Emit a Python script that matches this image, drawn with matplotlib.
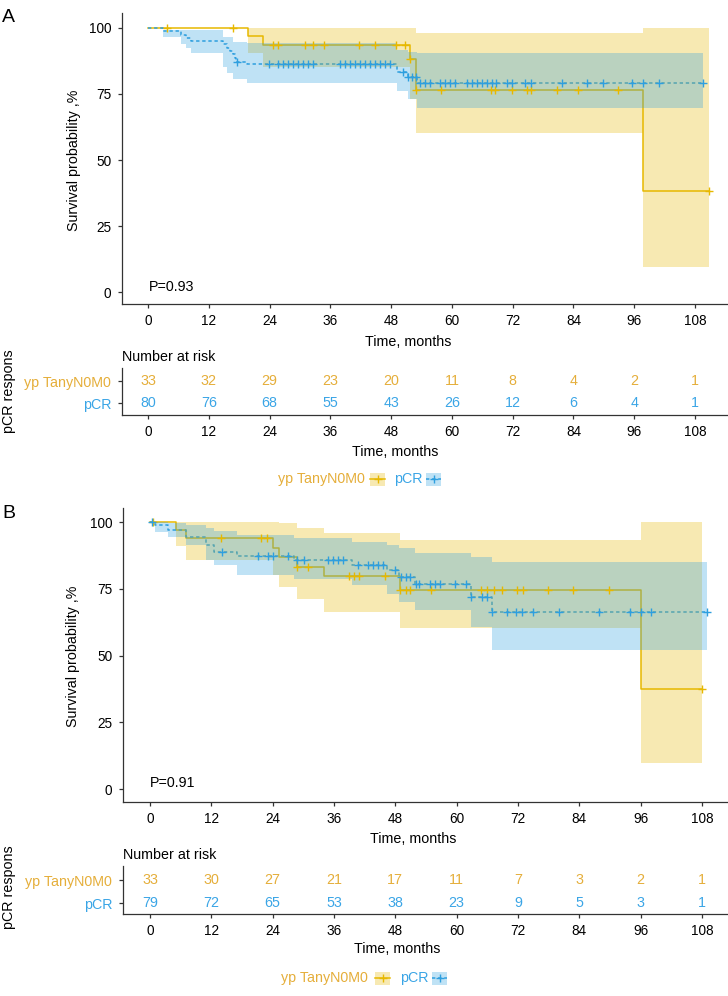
import matplotlib
matplotlib.use('Agg')
import matplotlib.pyplot as plt
import numpy as np
from matplotlib.patches import Rectangle

plt.rcParams['font.family'] = ['Liberation Sans', 'DejaVu Sans']

# ---------------- data ----------------
groups = ['yp TanyN0M0', 'pCR']
time_ticks = [0, 12, 24, 36, 48, 60, 72, 84, 96, 108]
surv_ticks = [0, 25, 50, 75, 100]

# Panel A – yp TanyN0M0
a_yp_t = [0, 19.8, 22.8, 51.8, 52.9, 97.8]
a_yp_s = [100, 97.0, 93.6, 88.2, 76.4, 38.2]
a_yp_lo = [100, 90.5, 85.4, 73.0, 60.1, 9.6]
a_yp_hi = [100, 100, 100, 100, 98.0, 100]
a_yp_end = 110.8
a_yp_cens = [3.7, 16.8, 24.7, 25.7, 31.0, 32.6, 34.7, 41.7, 44.8, 49.0, 50.7, 51.8,
             52.9, 57.8, 67.7, 68.5, 71.8, 74.8, 75.7, 80.7, 84.8, 92.7, 110.8]
# Panel A – pCR
a_pcr_t = [0, 3.0, 6.5, 7.5, 8.5, 14.9, 15.6, 16.2, 16.8, 17.2, 17.4, 19.5, 49.1, 51.4, 53.2]
a_pcr_s = [100, 98.75, 97.5, 96.25, 95.0, 93.75, 92.5, 91.25, 90.0, 88.75, 87.2, 86.2, 83.5, 81.3, 79.0]
a_pcr_lo = [100, 96.5, 93.9, 92.3, 90.4, 85.4, 82.8, 82.8, 80.6, 80.6, 80.6, 79.3, 76.3, 73.0, 69.8]
a_pcr_hi = [100, 99.3, 99.3, 99.3, 99.3, 96.7, 96.7, 96.7, 94.8, 94.8, 94.8, 94.2, 91.7, 91.0, 90.4]
a_pcr_end = 109.6
a_pcr_cens = [17.6, 23.8, 25.7, 26.7, 27.7, 28.7, 29.7, 30.6, 31.6, 32.6, 37.9, 38.9, 39.9,
              40.9, 41.9, 42.8, 43.8, 44.8, 45.8, 46.8, 47.8, 50.4, 51.4, 52.1, 53.0, 53.7,
              54.7, 55.7, 57.7, 58.6, 59.6, 60.6, 62.9, 63.9, 64.9, 65.9, 66.9, 67.9, 68.8,
              70.8, 71.8, 74.4, 75.7, 81.7, 86.7, 89.8, 95.6, 97.8, 100.8, 109.6]
a_risk_yp = [33, 32, 29, 23, 20, 11, 8, 4, 2, 1]
a_risk_pcr = [80, 76, 68, 55, 43, 26, 12, 6, 4, 1]
a_pval = 'P=0.93'

# Panel B – yp TanyN0M0
b_yp_t = [0, 5.0, 7.0, 24.1, 25.2, 28.8, 34.0, 49.0, 96.0]
b_yp_s = [100, 97.0, 93.9, 90.4, 86.8, 83.3, 79.6, 74.7, 37.4]
b_yp_lo = [100, 91.0, 85.8, 80.0, 75.8, 71.0, 66.4, 60.2, 9.6]
b_yp_hi = [100, 100, 100, 99.9, 99.5, 97.6, 95.7, 93.3, 100]
b_yp_end = 108.0
b_yp_cens = [0.6, 13.8, 21.8, 22.9, 28.8, 30.9, 38.9, 39.9, 40.8, 45.9, 49.0, 50.0, 50.8,
             55.0, 64.7, 66.0, 67.4, 68.8, 71.9, 72.9, 77.8, 82.8, 89.9, 108.0]
# Panel B – pCR
b_pcr_t = [0, 1.0, 3.5, 7.0, 11.0, 12.5, 17.0, 28.2, 39.5, 46.3, 48.8, 51.9, 62.9, 67.0]
b_pcr_s = [100, 98.7, 97.0, 94.2, 91.5, 88.9, 87.3, 85.8, 83.9, 82.0, 79.5, 76.8, 71.8, 66.4]
b_pcr_lo = [100, 96.4, 94.3, 91.4, 85.8, 83.9, 80.1, 78.5, 76.4, 73.2, 70.1, 67.0, 60.5, 52.1]
b_pcr_hi = [100, 100, 99.7, 98.7, 97.6, 96.7, 95.2, 93.9, 92.6, 91.3, 90.1, 88.3, 87.0, 85.1]
b_pcr_end = 109.0
b_pcr_cens = [0.3, 14.0, 21.1, 23.1, 24.1, 27.0, 28.8, 30.2, 34.9, 35.9, 36.8, 37.8, 40.6,
              42.6, 43.6, 44.6, 45.6, 47.9, 49.2, 50.1, 50.9, 52.1, 52.7, 54.8, 55.8, 56.7,
              59.7, 61.8, 62.9, 64.9, 65.9, 67.0, 69.8, 71.7, 72.7, 75.0, 80.1, 87.9, 94.0,
              96.0, 98.0, 109.0]
b_risk_yp = [33, 30, 27, 21, 17, 11, 7, 3, 2, 1]
b_risk_pcr = [79, 72, 65, 53, 38, 23, 9, 5, 3, 1]
b_pval = 'P=0.91'

# ---------------- style ----------------
W, H = 728, 996
YEL = '#E7B800'
BLU = '#2E9FDF'
YEL_TXT = '#E5AE3A'
BLU_TXT = '#3AA5E6'
AXC = '#333333'
FS_TICK = 9.8
FS_TXT = 10.3

fig = plt.figure(figsize=(W / 100, H / 100), dpi=100)


def px_axes(left, right, top, bottom):
    return fig.add_axes([left / W, 1 - bottom / H, (right - left) / W, (bottom - top) / H])


def style_axes(ax):
    for sp in ['top', 'right']:
        ax.spines[sp].set_visible(False)
    for sp in ['left', 'bottom']:
        ax.spines[sp].set_color(AXC)
        ax.spines[sp].set_linewidth(0.9)
    ax.tick_params(colors=AXC, width=0.9, length=3, labelsize=FS_TICK, labelcolor='black')
    ax.tick_params(axis='x', pad=4.5)
    ax.tick_params(axis='y', pad=4.8)
    ax.set_facecolor('none')


def km(ax, t, s, lo, hi, end, cens, color, ls):
    tt = list(t) + [end]
    ss = list(s) + [s[-1]]
    ax.step(tt, ss, where='post', color=color, lw=1.1, ls=ls, zorder=2)
    ax.fill_between(tt, list(lo) + [lo[-1]], list(hi) + [hi[-1]], step='post',
                    color=color, alpha=0.3, lw=0, zorder=3)
    idx = np.searchsorted(np.array(t), np.array(cens), side='right') - 1
    sc = np.array(s)[idx]
    ax.plot(cens, sc, ls='none', marker='+', ms=6, mew=1.0, color=color, zorder=4)


ov = fig.add_axes([0, 0, 1, 1])
ov.set_xlim(0, W)
ov.set_ylim(H, 0)
ov.axis('off')
ov.set_zorder(10)


def legend_key(x, y, color, ls):
    ov.add_patch(Rectangle((x, y - 6.5), 15, 13, facecolor=color, alpha=0.3, lw=0))
    ov.plot([x, x + 15], [y, y], color=color, lw=1.1, ls=ls)
    ov.plot([x + 7.5], [y], marker='+', ms=6, mew=1.0, color=color)


def panel(L, data):
    (yp, pcr, risk_yp, risk_pcr, pval) = data
    # main axes
    ax = px_axes(L['left'], W, L['top'], L['bottom'])
    x0, ppm = L['x0'], L['ppm']
    ax.set_xlim((L['left'] - x0) / ppm, (W - x0) / ppm)
    s0, ppu = L['s0'], L['ppu']
    ax.set_ylim((s0 - L['bottom']) / ppu, (s0 - L['top']) / ppu)
    style_axes(ax)
    ax.set_xticks(time_ticks)
    ax.set_yticks(surv_ticks)
    km(ax, *yp, YEL, '-')
    km(ax, *pcr, BLU, (0, (2.2, 1.8)))

    # risk table
    at = px_axes(L['left'], W, L['ttop'], L['tbot'])
    at.set_xlim(ax.get_xlim())
    r1, r2 = L['r1'], L['r2']
    unit = r2 - r1
    at.set_ylim(1 - (L['tbot'] - r2) / unit, 2 + (r1 - L['ttop']) / unit)
    style_axes(at)
    at.set_xticks(time_ticks)
    at.set_yticks([2, 1])
    at.set_yticklabels(groups, fontsize=FS_TXT)
    for lab, c in zip(at.get_yticklabels(), [YEL_TXT, BLU_TXT]):
        lab.set_color(c)
    for x, n1, n2 in zip(time_ticks, risk_yp, risk_pcr):
        at.text(x, 2, str(n1), ha='center', va='center', color=YEL_TXT, fontsize=FS_TXT)
        at.text(x, 1, str(n2), ha='center', va='center', color=BLU_TXT, fontsize=FS_TXT)

    # texts
    ov.text(2, L['lab_y'], L['label'], fontsize=14, ha='left', va='center')
    ov.text(L['ylab_x'], L['ylab_y'], 'Survival probability ,%', rotation=90,
            ha='center', va='center', fontsize=FS_TXT)
    ov.text(L['p_x'], L['p_y'], pval, ha='left', va='center', fontsize=FS_TXT)
    ov.text(L['xl1_x'], L['xl1_y'], 'Time, months', ha='center', va='center', fontsize=FS_TXT)
    ov.text(L['left'], L['nar_y'], 'Number at risk', ha='left', va='center', fontsize=FS_TXT)
    ov.text(L['xl2_x'], L['xl2_y'], 'Time, months', ha='center', va='center', fontsize=FS_TXT)
    ov.text(9, L['resp_y'], 'pCR respons', rotation=90, ha='center', va='center',
            fontsize=FS_TXT)
    # legend
    ly = L['leg_y']
    ov.text(L['leg_x'][0], ly, groups[0], ha='left', va='center', color=YEL_TXT, fontsize=FS_TXT)
    legend_key(L['leg_x'][1], ly, YEL, '-')
    ov.text(L['leg_x'][2], ly, groups[1], ha='left', va='center', color=BLU_TXT, fontsize=FS_TXT)
    legend_key(L['leg_x'][3], ly, BLU, (0, (2.2, 1.8)))


LA = dict(left=122, top=13.5, bottom=304, x0=148, ppm=5.065, s0=292, ppu=2.64,
          ttop=368, tbot=415, r1=381, r2=403, label='A', lab_y=17,
          ylab_x=74, ylab_y=160, p_x=149, p_y=287, xl1_x=408, xl1_y=342,
          nar_y=357, xl2_x=395, xl2_y=452, resp_y=391, leg_y=479,
          leg_x=[278.5, 370, 394.5, 426])
LB = dict(left=123, top=508, bottom=802, x0=150, ppm=5.111, s0=789, ppu=2.67,
          ttop=866, tbot=914, r1=880, r2=903, label='B', lab_y=513,
          ylab_x=73, ylab_y=656, p_x=150, p_y=783, xl1_x=413, xl1_y=839,
          nar_y=855, xl2_x=397, xl2_y=949, resp_y=887, leg_y=978,
          leg_x=[281, 375, 400, 432])

panel(LA, ((a_yp_t, a_yp_s, a_yp_lo, a_yp_hi, a_yp_end, a_yp_cens),
           (a_pcr_t, a_pcr_s, a_pcr_lo, a_pcr_hi, a_pcr_end, a_pcr_cens),
           a_risk_yp, a_risk_pcr, a_pval))
panel(LB, ((b_yp_t, b_yp_s, b_yp_lo, b_yp_hi, b_yp_end, b_yp_cens),
           (b_pcr_t, b_pcr_s, b_pcr_lo, b_pcr_hi, b_pcr_end, b_pcr_cens),
           b_risk_yp, b_risk_pcr, b_pval))

fig.savefig('out.png', dpi=100)
